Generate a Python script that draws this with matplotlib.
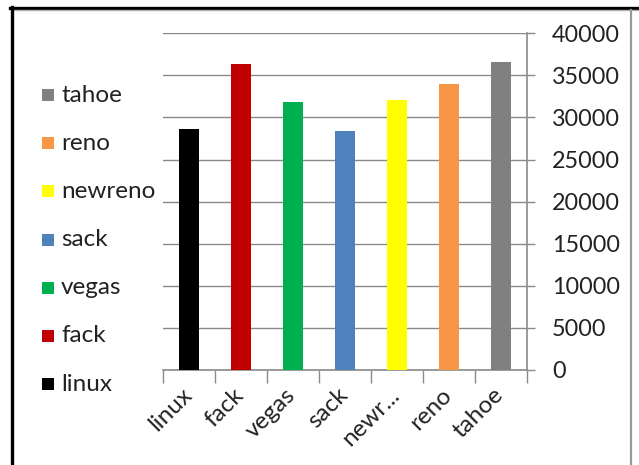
import matplotlib
matplotlib.use("Agg")
import matplotlib.pyplot as plt
from matplotlib.patches import Rectangle
from matplotlib.lines import Line2D
from matplotlib.transforms import ScaledTranslation

plt.rcParams['font.family'] = ['Lato', 'DejaVu Sans']

# TCP congestion-control variants and their measured throughput
categories = ["linux", "fack", "vegas", "sack", "newreno", "reno", "tahoe"]
tick_labels = ["linux", "fack", "vegas", "sack", "newr...", "reno", "tahoe"]
values = [28600, 36350, 31800, 28400, 32100, 34000, 36550]
colors = ["#000000", "#C00000", "#00B050", "#4F81BD", "#FFFF00", "#F79646", "#808080"]
y_ticks = [0, 5000, 10000, 15000, 20000, 25000, 30000, 35000, 40000]

W, H = 639, 465
fig = plt.figure(figsize=(W / 100, H / 100), dpi=100)

def fx(px):
    return px / W

def fy(py):
    return 1 - py / H

ax = fig.add_axes([fx(163), fy(370), fx(527) - fx(163), fy(33.3) - fy(370)])

grid_col = "#8a8a8a"
text_col = "#222222"
fs_y = 16.8
fs_leg = 17.5
fs_x = 17.5

x = list(range(len(categories)))
for xi, v, c, name in zip(x, values, colors, categories):
    ax.bar(xi, v, width=0.4, color=c, label=name, zorder=3)

ax.set_xlim(-0.5, len(categories) - 0.5)
ax.set_ylim(0, 40000)

# y axis on the right
ax.yaxis.tick_right()
ax.set_yticks(y_ticks)
ax.set_yticklabels([str(t) for t in y_ticks], fontsize=fs_y, color=text_col)
ax.tick_params(axis='y', direction='out', length=6, width=1, color=grid_col, pad=12)
ax.grid(axis='y', color=grid_col, linewidth=1, zorder=0)

# category labels centred, tick marks between categories
ax.set_xticks(x)
ax.set_xticklabels(tick_labels, rotation=45, ha='right', va='top',
                   rotation_mode='anchor', fontsize=fs_x, color=text_col)
ax.tick_params(axis='x', which='major', length=0, pad=8)
shift = ScaledTranslation(-8 / 100, -3 / 100, fig.dpi_scale_trans)
for lbl in ax.get_xticklabels():
    lbl.set_transform(lbl.get_transform() + shift)
ax.set_xticks([i - 0.5 for i in range(len(categories) + 1)], minor=True)
ax.tick_params(axis='x', which='minor', direction='out', length=9, width=1, color=grid_col)

for s in ['top', 'left']:
    ax.spines[s].set_visible(False)
ax.spines['right'].set_color(grid_col)
ax.spines['bottom'].set_color(grid_col)
ax.spines['right'].set_linewidth(1.2)
ax.spines['bottom'].set_linewidth(1.2)

# legend on the left, last category on top
for i, (name, c) in enumerate(zip(reversed(categories), reversed(colors))):
    yc = 95 + 48.2 * i
    fig.add_artist(Rectangle((fx(42), fy(yc + 6)), fx(12), fy(0) - fy(12),
                             transform=fig.transFigure, facecolor=c, edgecolor='none'))
    fig.text(fx(61), fy(yc), name, fontsize=fs_leg, color=text_col, va='center', ha='left')

# frame lines
fig.add_artist(Line2D([fx(10), 1], [fy(8), fy(8)], transform=fig.transFigure,
                      color='black', linewidth=2.4))
fig.add_artist(Line2D([fx(13), 1], [fy(10.5), fy(10.5)], transform=fig.transFigure,
                      color='#b0b0b0', linewidth=1))
fig.add_artist(Line2D([fx(11.5), fx(11.5)], [fy(7), 0], transform=fig.transFigure,
                      color='black', linewidth=2.4))
fig.add_artist(Line2D([fx(631), fx(631)], [fy(10), 0], transform=fig.transFigure,
                      color='#999999', linewidth=1.6))

fig.savefig("out.png", dpi=100)
